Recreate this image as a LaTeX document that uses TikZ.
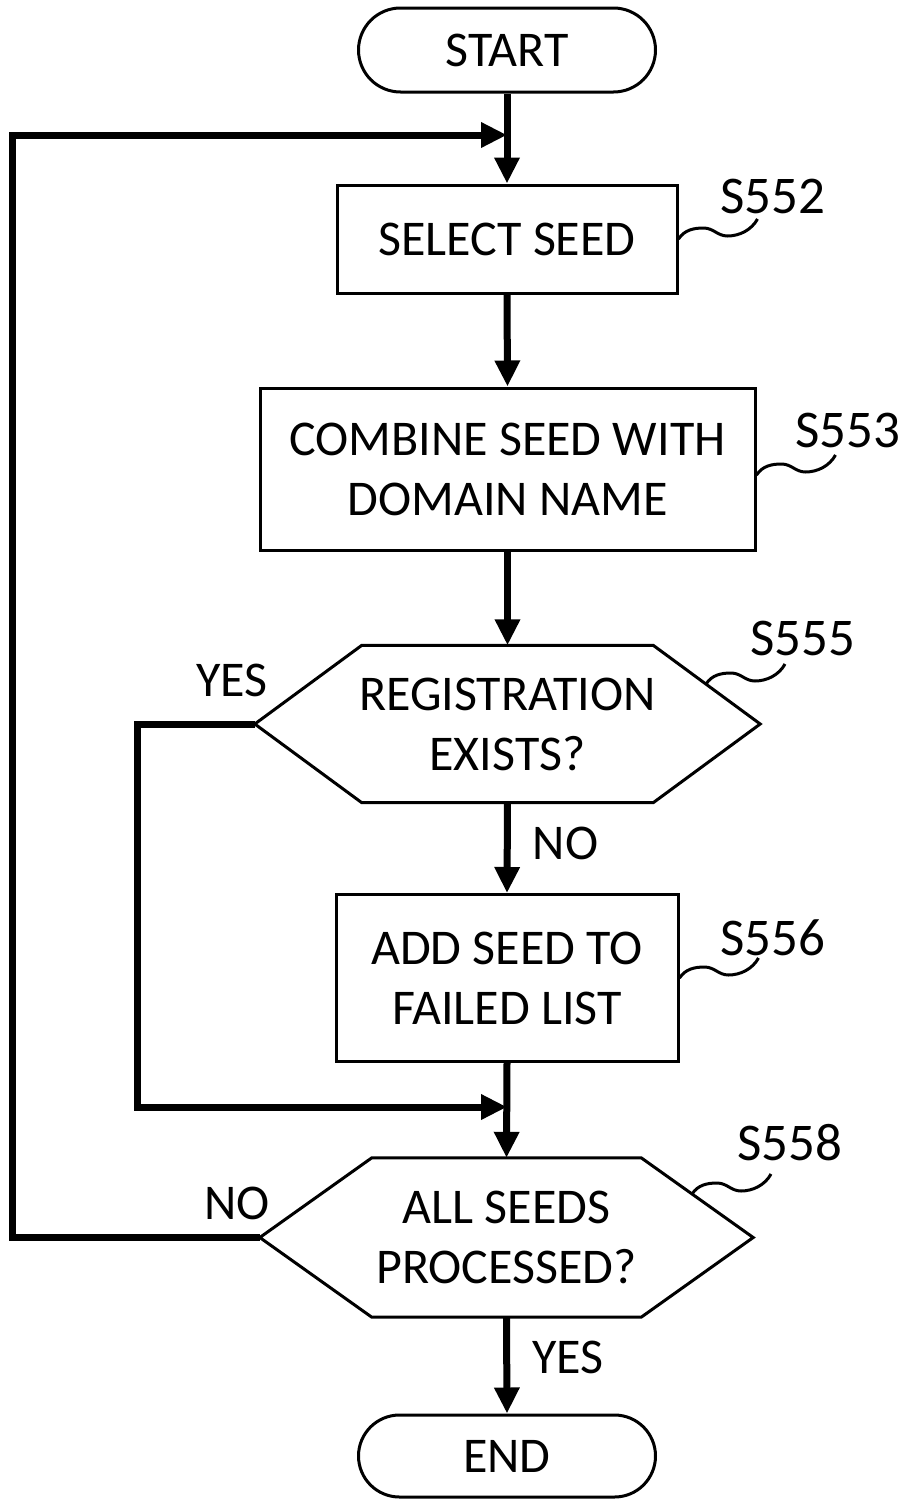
\documentclass[tikz,border=0pt]{standalone}
\usepackage{fontspec}
\setmainfont{Carlito}
\usetikzlibrary{shapes.misc,arrows.meta,calc}
\tikzset{
  squig/.pic={\draw[line width=3pt] (0,0) .. controls (6,-9) and (15,-11) .. (25,-11) .. controls (35,-11) and (39,-3) .. (49,-3) .. controls (61,-3) and (73,-9) .. (79,-20);}
}
\begin{document}
\begin{tikzpicture}[x=1pt,y=-1pt,
  every node/.style={font=\fontsize{50}{60}\selectfont, inner sep=0pt},
  box/.style={draw, line width=3pt, align=center},
  term/.style={draw, line width=3pt, rounded rectangle, minimum width=297pt, minimum height=84pt},
  hexbox/.style={align=center},
  hexline/.style={line width=3pt, line join=miter},
  conn/.style={line width=7pt},
  arr/.style={conn, -{Triangle[length=26pt,width=24pt]}},
  steplbl/.style={anchor=base west, font=\fontsize{53}{60}\selectfont},
  branch/.style={font=\fontsize{50}{60}\selectfont}
]
\useasboundingbox (0,0) rectangle (909,1499);

% nodes
\node[term] (start) at (507,50) {START};
\node[box, minimum width=340pt, minimum height=108pt] (sel) at (507,239) {SELECT SEED};
\node[box, minimum width=495pt, minimum height=162pt] (comb) at (507.5,469) {COMBINE SEED WITH\\DOMAIN NAME};
\node[hexbox, minimum width=505pt, minimum height=157pt] (h1) at (507.5,724) {REGISTRATION\\EXISTS?};
\node[box, minimum width=342pt, minimum height=167pt] (add) at (507,978) {ADD SEED TO\\FAILED LIST};
\node[hexbox, minimum width=493pt, minimum height=159pt] (h2) at (506.5,1237.5) {ALL SEEDS\\PROCESSED?};
\node[term, minimum height=82pt] (end) at (507,1456) {END};

% hexagon outlines
\draw[hexline] (h1.west) -- ($(h1.north west)+(107,0)$) -- ($(h1.north east)+(-107,0)$) -- (h1.east)
  -- ($(h1.south east)+(-107,0)$) -- ($(h1.south west)+(107,0)$) -- cycle;
\draw[hexline] (h2.west) -- ($(h2.north west)+(112,0)$) -- ($(h2.north east)+(-112,0)$) -- (h2.east)
  -- ($(h2.south east)+(-112,0)$) -- ($(h2.south west)+(112,0)$) -- cycle;

% step labels
\node[steplbl] (l552) at (720,213) {S552};
\node[steplbl] (l553) at (795,447) {S553};
\node[steplbl] (l555) at (750,655) {S555};
\node[steplbl] (l556) at (720,955) {S556};
\node[steplbl] (l558) at (737,1160) {S558};

% leaders
\pic at (sel.east) {squig};
\pic at ($(comb.east)+(0,6)$) {squig};
\pic at (706,684) {squig};
\pic at (add.east) {squig};
\pic at (692,1194) {squig};

% junctions
\coordinate (j1) at (507,135);
\coordinate (j2) at (507,1107);
\coordinate (lx) at (12,0);
\coordinate (lx2) at (137,0);

% connectors
\draw[arr] (start.south) -- (sel.north);
\draw[arr] (sel.south) -- (comb.north);
\draw[arr] (comb.south) -- (h1.north);
\draw[arr] (h1.south) -- node[branch, right=22pt, pos=0.45] (no1) {NO} (add.north);
\draw[arr] (add.south) -- (h2.north);
\draw[arr] (h2.south) -- node[branch, right=22pt, pos=0.42] (yes2) {YES} (end.north);
\draw[arr] (h1.west) -- (h1.west -| lx2) |- (j2);
\draw[arr] (h2.west) -- (h2.west -| lx) |- (j1);

% branch labels
\node[branch] (yes1) at (232,680) {YES};
\node[branch] (no2) at (237,1203) {NO};
\end{tikzpicture}
\end{document}
